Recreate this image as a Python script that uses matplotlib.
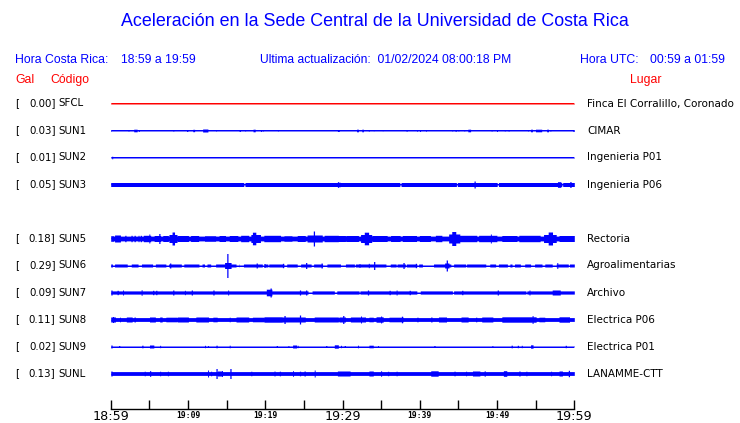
import numpy as np
import matplotlib
matplotlib.use("Agg")
import matplotlib.pyplot as plt
from matplotlib import transforms

# ---------------- data ----------------
TITLE = "Aceleración en la Sede Central de la Universidad de Costa Rica"
CODES = ["SFCL", "SUN1", "SUN2", "SUN3", "SUN5", "SUN6", "SUN7", "SUN8", "SUN9", "SUNL"]
GAL = [0.00, 0.03, 0.01, 0.05, 0.18, 0.29, 0.09, 0.11, 0.02, 0.13]
PLACES = ["Finca El Corralillo, Coronado", "CIMAR", "Ingenieria P01", "Ingenieria P06",
          "Rectoria", "Agroalimentarias", "Archivo", "Electrica P06", "Electrica P01",
          "LANAMME-CTT"]
# background (noise) half-amplitude of each trace, in trace units
BASE_AMP = [0.5, 0.5, 0.5, 2.0, 2.4, 1.5, 1.6, 1.9, 0.5, 1.9]

# events: (start minute, end minute, half amplitude)
SFCL_EVENTS = []
SUN1_EVENTS = [(0.0, 0.0, 1.0), (2.3, 2.3, 0.7), (3.05, 3.35, 1.3), (3.65, 3.65, 1.0),
               (8.1, 8.1, 0.7), (9.9, 9.9, 1.0), (10.7, 10.8, 1.2), (11.95, 12.5, 1.5),
               (13.65, 13.65, 0.7), (16.7, 16.7, 1.0), (17.4, 17.4, 0.7), (18.5, 18.65, 1.3),
               (19.45, 19.45, 1.0), (19.7, 19.7, 0.7), (21.65, 21.65, 0.7), (29.4, 29.5, 1.0),
               (31.9, 32.0, 1.3), (32.55, 32.65, 1.3), (33.4, 33.4, 0.8), (34.05, 34.05, 0.6),
               (35.2, 35.2, 0.6), (38.3, 38.3, 0.8), (39.65, 39.65, 0.8), (40.05, 40.05, 1.0),
               (40.8, 40.8, 0.8), (44.2, 44.2, 0.7), (44.65, 44.65, 1.0), (45.0, 45.0, 0.7),
               (45.75, 45.75, 0.7), (46.3, 46.5, 1.3), (49.3, 49.3, 0.7), (50.0, 50.0, 1.0),
               (51.0, 51.0, 0.7), (51.5, 51.5, 0.7), (54.0, 54.0, 0.7), (54.4, 54.5, 1.3),
               (55.05, 55.7, 1.3), (56.5, 56.6, 1.3), (56.9, 56.9, 0.7), (59.9, 59.9, 1.0)]
SUN2_EVENTS = [(0.2, 0.2, 1.3)]
SUN3_EVENTS = [(29.4, 29.4, 3.0), (29.6, 29.6, 2.5), (47.1, 47.1, 3.5), (57.9, 58.2, 2.8),
               (59.5, 59.5, 3.0)]
SUN5_EVENTS = [(0.0, 0.3, 2.8), (0.55, 1.2, 3.5), (1.9, 1.9, 3.2), (2.7, 2.7, 3.2), (3.1, 3.1, 3.2),
               (3.6, 3.6, 3.2), (3.9, 3.9, 3.2), (4.3, 5.1, 3.2), (5.0, 5.0, 4.5), (5.7, 6.4, 3.0),
               (6.3, 6.3, 5.0), (6.8, 7.4, 3.0), (7.6, 8.5, 4.0), (8.0, 8.2, 6.5), (8.7, 10.0, 3.0),
               (10.4, 11.3, 3.0), (12.2, 13.5, 2.8), (14.1, 14.8, 3.0), (15.4, 16.4, 3.0),
               (16.9, 17.8, 3.2), (18.2, 19.3, 4.0), (18.4, 18.7, 6.3), (19.9, 21.9, 3.2),
               (22.5, 23.4, 2.8), (24.2, 25.1, 3.0), (25.5, 27.3, 3.5), (26.3, 26.3, 7.5),
               (27.7, 29.4, 3.2), (29.4, 30.3, 3.0), (30.5, 32.0, 3.0), (32.4, 33.7, 4.0),
               (32.9, 33.3, 6.3), (33.9, 35.7, 3.0), (36.3, 37.4, 3.0), (37.8, 39.5, 3.0),
               (40.0, 41.3, 3.0), (42.1, 42.8, 3.2), (43.8, 45.1, 4.5), (44.2, 44.6, 7.0),
               (45.1, 47.3, 3.2), (47.7, 49.9, 3.2), (49.2, 49.2, 4.5), (50.7, 52.5, 3.0),
               (52.9, 55.5, 3.2), (56.1, 57.6, 4.0), (56.7, 57.1, 6.5), (58.1, 60.0, 3.0)]
SUN6_EVENTS = [(7.7, 7.7, 2.5), (14.8, 15.5, 3.0), (15.1, 15.1, 12.0), (18.9, 18.9, 2.5),
               (19.9, 19.9, 2.0), (22.3, 22.3, 2.2), (25.3, 25.3, 3.0), (27.3, 27.3, 2.5),
               (32.2, 32.2, 2.0), (33.4, 33.4, 2.2), (34.1, 34.1, 4.0), (37.9, 37.9, 3.0),
               (39.5, 39.5, 2.2), (43.3, 43.7, 2.5), (43.5, 43.5, 5.5), (57.8, 57.8, 3.0)]
SUN7_EVENTS = [(0.1, 0.1, 2.5), (0.9, 0.9, 2.2), (1.6, 1.6, 2.5), (4.0, 4.0, 2.8), (5.5, 5.5, 2.2),
               (5.9, 5.9, 2.2), (8.1, 8.1, 2.5), (9.6, 9.6, 2.2), (10.5, 10.5, 2.5),
               (13.3, 13.3, 2.5), (15.2, 15.2, 2.5), (20.2, 20.8, 3.3), (20.7, 20.7, 4.5),
               (24.5, 24.5, 2.5), (25.3, 25.3, 2.5), (33.3, 33.3, 2.5), (36.1, 36.1, 2.2),
               (37.0, 37.0, 2.5), (38.7, 38.7, 2.2), (45.5, 45.5, 2.2), (50.1, 50.1, 2.5),
               (54.2, 54.2, 2.5), (57.2, 58.1, 2.5)]
SUN8_EVENTS = [(0.0, 0.55, 2.5), (0.3, 0.3, 3.0), (1.2, 1.2, 2.3), (2.1, 2.7, 2.5), (3.1, 3.1, 2.5),
               (5.1, 5.7, 2.5), (6.4, 6.6, 2.5), (7.2, 8.5, 2.3), (8.7, 10.0, 2.5),
               (11.1, 12.6, 2.5), (13.3, 13.7, 2.3), (15.4, 15.4, 2.3), (16.3, 17.8, 2.5),
               (18.4, 19.7, 2.3), (19.9, 22.1, 2.7), (22.5, 22.5, 4.0), (22.1, 25.1, 2.5),
               (24.5, 24.5, 4.5), (26.4, 29.4, 2.5), (29.6, 30.3, 2.5), (30.1, 30.1, 4.0),
               (31.1, 32.9, 2.5), (32.4, 32.4, 3.5), (33.5, 33.9, 2.3), (34.4, 35.2, 2.7),
               (35.0, 35.0, 3.5), (36.1, 37.8, 2.3), (37.7, 37.7, 3.3), (39.7, 39.7, 2.3),
               (41.5, 41.5, 2.5), (42.5, 43.4, 2.5), (45.4, 46.2, 2.5), (47.3, 47.3, 2.3),
               (48.1, 49.4, 2.5), (50.7, 55.0, 2.7), (54.6, 54.6, 4.0), (55.5, 56.1, 2.3),
               (58.1, 59.3, 2.7)]
SUN9_EVENTS = [(0.1, 0.1, 1.5), (1.1, 1.1, 1.0), (4.1, 4.1, 1.3), (5.1, 5.5, 1.5), (6.4, 6.4, 1.2),
               (12.2, 12.2, 1.2), (12.6, 12.6, 1.0), (13.7, 13.7, 1.3), (15.4, 15.4, 1.3),
               (21.5, 21.5, 1.0), (23.0, 23.0, 1.0), (23.6, 24.0, 1.5), (24.2, 24.2, 1.2),
               (27.9, 27.9, 1.0), (29.0, 29.4, 1.7), (29.8, 29.8, 1.2), (30.3, 30.3, 1.0),
               (32.0, 32.0, 1.3), (33.5, 33.9, 1.3), (34.6, 34.6, 1.0), (41.9, 41.9, 1.0),
               (49.4, 49.4, 1.0), (51.9, 51.9, 1.3), (52.7, 52.7, 1.2), (53.2, 53.2, 1.2),
               (54.4, 54.6, 1.7), (58.9, 58.9, 1.2)]
SUNL_EVENTS = [(0.1, 0.1, 2.5), (4.4, 4.4, 2.3), (5.1, 5.1, 2.8), (6.4, 6.4, 2.3), (7.4, 7.4, 2.3),
               (12.6, 12.6, 3.5), (13.0, 13.0, 2.3), (13.7, 13.7, 5.0), (13.9, 14.3, 2.5),
               (14.4, 14.4, 3.0), (15.5, 15.5, 5.0), (18.2, 18.2, 2.3), (21.2, 21.2, 2.5),
               (21.9, 21.9, 2.3), (23.6, 23.6, 2.8), (24.5, 24.5, 2.3), (25.1, 25.1, 2.5),
               (26.4, 26.4, 3.5), (29.4, 30.9, 2.5), (33.5, 33.9, 2.5), (35.0, 35.0, 2.8),
               (35.9, 35.9, 2.2), (37.0, 37.0, 2.3), (41.5, 42.3, 2.7), (44.5, 44.5, 2.3),
               (46.0, 46.0, 2.3), (46.9, 47.7, 2.5), (48.4, 48.4, 2.8), (50.9, 51.2, 2.8),
               (52.9, 52.9, 2.5), (53.8, 53.8, 2.3), (57.0, 57.0, 2.3), (58.1, 58.4, 2.5),
               (59.3, 59.3, 3.2)]

# quiet stretches: (start minute, end minute)
SUN3_GAPS = [(17.3, 17.3), (37.5, 37.5), (44.8, 44.8), (50.1, 50.1), (58.45, 58.45)]
SUN6_GAPS = [(0.3, 0.45), (2.2, 2.6), (3.6, 3.9), (5.5, 5.7), (7.2, 7.45), (9.2, 9.4),
             (11.5, 11.75), (12.2, 12.4), (13.0, 13.5), (16.3, 16.5), (16.7, 17.1),
             (19.7, 19.8), (20.4, 20.4), (22.5, 22.7), (24.2, 24.5), (26.0, 26.2),
             (27.5, 27.9), (29.8, 30.3), (31.6, 31.6), (35.7, 36.1), (37.0, 37.0),
             (38.2, 38.2), (39.7, 39.8), (40.4, 41.7), (44.1, 44.3), (46.0, 46.0),
             (48.6, 49.0), (49.9, 50.1), (51.4, 51.6), (52.0, 52.2), (53.1, 53.5),
             (54.4, 54.8), (55.9, 56.1), (57.2, 57.6), (59.3, 59.3)]
SUN7_GAPS = [(25.6, 26.0), (29.0, 29.2), (32.2, 32.2), (39.7, 40.0), (44.3, 44.3), (53.8, 53.8)]

HORA_CR = "18:59 a 19:59"
HORA_UTC = "00:59 a 01:59"
UPDATED = "01/02/2024 08:00:18 PM"
TICK_MIN = list(range(0, 61, 5))
TICK_LABELS = {0: "18:59", 10: "19:09", 20: "19:19", 30: "19:29", 40: "19:39", 50: "19:49", 60: "19:59"}
MAJOR_LABELS = [0, 30, 60]

EVENTS = {"SFCL": SFCL_EVENTS, "SUN1": SUN1_EVENTS, "SUN2": SUN2_EVENTS, "SUN3": SUN3_EVENTS,
          "SUN5": SUN5_EVENTS, "SUN6": SUN6_EVENTS, "SUN7": SUN7_EVENTS, "SUN8": SUN8_EVENTS,
          "SUN9": SUN9_EVENTS, "SUNL": SUNL_EVENTS}
GAPS = {"SUN3": SUN3_GAPS, "SUN6": SUN6_GAPS, "SUN7": SUN7_GAPS}

# ---------------- style / layout ----------------
BLUE = "#0000ff"
RED = "#ff0000"
W, H = 740, 423
HDR = "Liberation Sans"
LBL = "DejaVu Sans"


def fx(px):
    return px / W


def fy(py):
    return 1 - py / H


fig = plt.figure(figsize=(W / 100, H / 100), dpi=100)
fig.patch.set_facecolor("white")

X0, X1 = 110.7, 574.3
ROW_STEP = 27
ax = fig.add_axes([fx(X0), fy(390), fx(X1) - fx(X0), 300 / H])
ax.set_xlim(0, 60)
ax.set_ylim(286.5, -13.5)
ax.axis("off")

t = np.arange(0, 60.0001, 0.04)
half = 0.065
lab_tr = transforms.blended_transform_factory(fig.transFigure, ax.transData)
for i, code in enumerate(CODES):
    row = i if i < 4 else i + 1
    y0 = row * ROW_STEP
    env = np.full_like(t, BASE_AMP[i])
    for a, b in GAPS.get(code, []):
        m = (t >= a - half) & (t <= b + half)
        env[m] = np.minimum(env[m], 0.5)
    for a, b, amp in EVENTS[code]:
        m = (t >= a - half) & (t <= b + half)
        env[m] = np.maximum(env[m], amp)
    col = RED if code == "SFCL" else BLUE
    ax.fill_between(t, y0 - env, y0 + env, step="mid", color=col, lw=0, antialiased=False)
    ax.plot([t[0], t[-1]], [y0, y0], color=col, lw=0.72, solid_capstyle="butt")
    # labels
    ax.text(fx(15), y0, "[", transform=lab_tr, ha="left", va="center",
            fontsize=7.4, family=LBL, color="black")
    ax.text(fx(55.5), y0, f"{GAL[i]:.2f}]", transform=lab_tr, ha="right", va="center",
            fontsize=7.4, family=LBL, color="black")
    ax.text(fx(58.5), y0, code, transform=lab_tr, ha="left", va="center",
            fontsize=7.4, family=LBL, color="black")
    ax.text(fx(587), y0, PLACES[i], transform=lab_tr, ha="left", va="center",
            fontsize=7.45, family=LBL, color="black")

# time axis
ax2 = fig.add_axes([fx(X0), fy(409), fx(X1) - fx(X0), 0.001])
ax2.set_xlim(0, 60)
ax2.set_ylim(0, 1)
ax2.patch.set_alpha(0)
for s in ["top", "left", "right"]:
    ax2.spines[s].set_visible(False)
ax2.spines["bottom"].set_linewidth(1.0)
ax2.set_yticks([])
ax2.set_xticks(TICK_MIN)
ax2.set_xticklabels([])
ax2.tick_params(axis="x", direction="in", length=6.5, width=1.0, color="black")
ttr = transforms.blended_transform_factory(ax2.transData, fig.transFigure)
for m, lab in TICK_LABELS.items():
    if m in MAJOR_LABELS:
        ax2.text(m, fy(416.5), lab, transform=ttr, ha="center", va="center",
                 fontsize=9.2, family=LBL, color="black")
    else:
        ax2.text(m, fy(415), lab, transform=ttr, ha="center", va="center",
                 fontsize=5.8, family="DejaVu Sans Mono", weight="bold", color="black")

# headers
fig.text(fx(375), fy(22), TITLE, ha="center", va="center", fontsize=12.9, family=HDR, color=BLUE)
fig.text(fx(15), fy(60), "Hora Costa Rica:", ha="left", va="center", fontsize=8.8, family=HDR, color=BLUE)
fig.text(fx(121), fy(60), HORA_CR, ha="left", va="center", fontsize=8.8, family=HDR, color=BLUE)
fig.text(fx(260), fy(60), "Ultima actualización:  " + UPDATED, ha="left", va="center",
         fontsize=8.7, family=HDR, color=BLUE)
fig.text(fx(580), fy(60), "Hora UTC:", ha="left", va="center", fontsize=8.8, family=HDR, color=BLUE)
fig.text(fx(725), fy(60), HORA_UTC, ha="right", va="center", fontsize=8.8, family=HDR, color=BLUE)
fig.text(fx(15), fy(80), "Gal", ha="left", va="center", fontsize=8.8, family=HDR, color=RED)
fig.text(fx(50), fy(80), "Código", ha="left", va="center", fontsize=8.8, family=HDR, color=RED)
fig.text(fx(630), fy(80), "Lugar", ha="left", va="center", fontsize=8.8, family=HDR, color=RED)

fig.savefig("out.png", dpi=100, facecolor="white")
